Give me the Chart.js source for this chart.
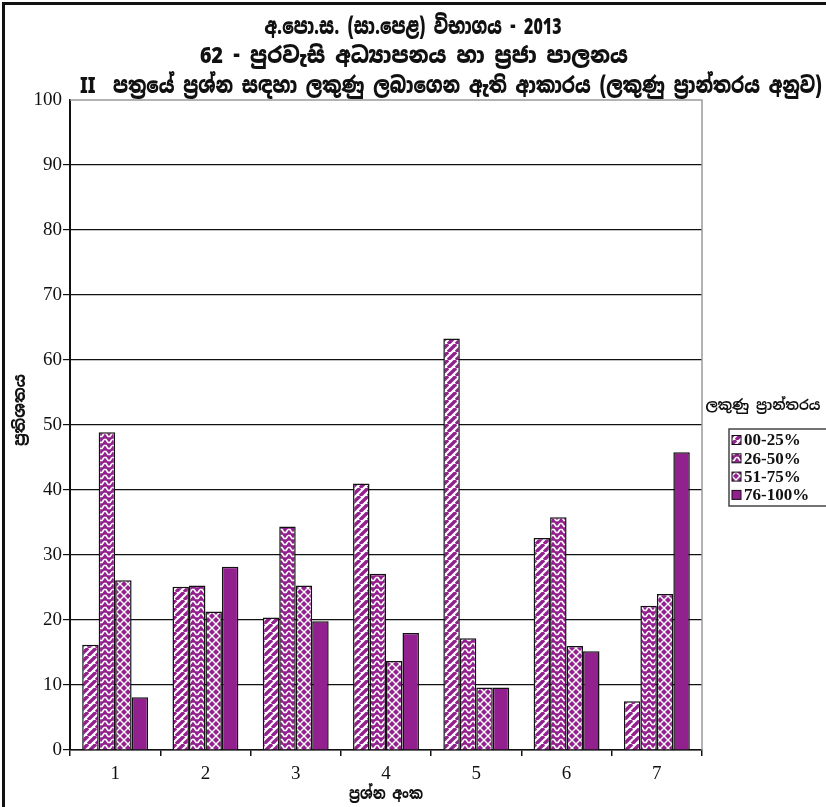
<!DOCTYPE html>
<html>
<head>
<meta charset="utf-8">
<script src="https://cdn.jsdelivr.net/npm/chart.js@4.4.1/dist/chart.umd.min.js"></script>
<style>
html,body{margin:0;padding:0;background:#fff;}
#wrap{width:826px;height:807px;position:relative;}
</style>
</head>
<body>
<div id="wrap"><canvas id="c" width="826" height="807"></canvas></div>
<script>
const titleLines = [
  "අ.පො.ස. (සා.පෙළ) විභාගය - 2013",
  "62 - පුරවැසි අධ්‍යාපනය හා ප්‍රජා පාලනය",
  "II  පත්‍රයේ ප්‍රශ්න සඳහා ලකුණු ලබාගෙන ඇති ආකාරය (ලකුණු ප්‍රාන්තරය අනුව)"
];
const yAxisTitle = "ප්‍රතිශතය";
const xAxisTitle = "ප්‍රශ්න අංක";
const legendTitle = "ලකුණු ප්‍රාන්තරය";
const categories = ["1", "2", "3", "4", "5", "6", "7"];
const seriesLabels = ["00-25%", "26-50%", "51-75%", "76-100%"];
const s00_25  = [16.2, 25.1, 20.4, 41.0, 63.3, 32.6, 7.5];
const s26_50  = [48.9, 25.3, 34.4, 27.1, 17.2, 35.8, 22.2];
const s51_75  = [26.1, 21.3, 25.3, 13.7, 9.6, 16.0, 24.0];
const s76_100 = [8.1, 28.2, 19.8, 18.0, 9.6, 15.2, 45.8];
const yTicks = [0, 10, 20, 30, 40, 50, 60, 70, 80, 90, 100];

const PURPLE = '#93208f';
const SIN = '"Noto Sans Sinhala","Noto Serif Sinhala","Iskoola Pota","Noto Sans",sans-serif';
const SERIF = '"Liberation Serif","DejaVu Serif",serif';

function makePattern(kind){
  const c = document.createElement('canvas');
  const g = c.getContext('2d');
  if(kind===0){
    c.width=8;c.height=8;
    g.fillStyle='#fff';g.fillRect(0,0,8,8);
    g.strokeStyle=PURPLE;g.lineWidth=3.4;
    for(let k=-8;k<=16;k+=8){g.beginPath();g.moveTo(k,8);g.lineTo(k+8,0);g.stroke();}
  } else if(kind===1){
    c.width=8;c.height=6;
    g.fillStyle=PURPLE;g.fillRect(0,0,8,6);
    g.strokeStyle='#fff';g.lineWidth=1.6;
    g.beginPath();g.moveTo(0,1.5);g.lineTo(2,1.5);g.lineTo(4,4.5);g.lineTo(6,4.5);g.lineTo(8,1.5);g.stroke();
  } else if(kind===2){
    c.width=8;c.height=8;
    g.fillStyle=PURPLE;g.fillRect(0,0,8,8);
    g.strokeStyle='#fff';g.lineWidth=1.4;
    g.beginPath();g.moveTo(0,0);g.lineTo(8,8);g.moveTo(8,0);g.lineTo(0,8);g.stroke();
  } else {
    return PURPLE;
  }
  return g.createPattern(c,'repeat');
}
const fills = [makePattern(0), makePattern(1), makePattern(2), makePattern(3)];
const seriesValues = [s00_25, s26_50, s51_75, s76_100];

function fitText(ctx, text, cx, cy, width){
  const w = ctx.measureText(text).width;
  ctx.save();
  ctx.translate(cx, cy);
  ctx.scale(width / w, 1);
  ctx.textAlign='center';
  ctx.fillText(text, 0, 0);
  ctx.restore();
}

const decorPlugin = {
  id:'decor',
  beforeDatasetsDraw(chart){
    const {ctx, chartArea:a} = chart;
    ctx.save();
    ctx.strokeStyle='#9a9a9a';ctx.lineWidth=1.5;
    ctx.beginPath();ctx.moveTo(a.left,a.top);ctx.lineTo(a.right,a.top);ctx.lineTo(a.right,a.bottom);ctx.stroke();
    ctx.restore();
  },
  afterDraw(chart){
    const {ctx} = chart;
    ctx.save();
    // frame
    ctx.fillStyle='#111';
    ctx.fillRect(2,2,3,807);
    ctx.fillRect(2,2,826,3);
    // titles
    ctx.fillStyle='#111';
    ctx.textBaseline='middle';
    ctx.font='900 22px '+SIN;
    fitText(ctx, titleLines[0], 413, 28, 297);
    fitText(ctx, titleLines[1], 414, 57, 428);
    fitText(ctx, titleLines[2], 451, 87, 742);
    // axis titles
    ctx.font='800 16px '+SIN;
    fitText(ctx, xAxisTitle, 386, 795, 74);
    ctx.save();
    ctx.translate(21, 410);ctx.rotate(-Math.PI/2);
    fitText(ctx, yAxisTitle, 0, 0, 72);
    ctx.restore();
    // legend
    ctx.font='700 14px '+SIN;
    fitText(ctx, legendTitle, 763, 406, 115);
    ctx.strokeStyle='#444';ctx.lineWidth=1.5;
    ctx.strokeRect(729, 429, 110, 77);
    ctx.font='bold 17px '+SERIF;
    seriesLabels.forEach((lab,i)=>{
      const y = 440 + i*18.3;
      ctx.fillStyle=fills[i];
      ctx.fillRect(732, y-4.5, 9, 9);
      ctx.strokeStyle='#111';ctx.lineWidth=1;
      ctx.strokeRect(732, y-4.5, 9, 9);
      ctx.fillStyle='#111';
      ctx.textAlign='left';
      ctx.fillText(lab, 744, y+1);
    });
    ctx.restore();
  }
};

new Chart(document.getElementById('c'), {
  type:'bar',
  data:{
    labels:categories,
    datasets: seriesLabels.map((lab,i)=>({
      label:lab,
      data:seriesValues[i],
      backgroundColor:fills[i],
      borderColor:'#111',
      borderWidth:1.5,
      barPercentage:1.0,
      categoryPercentage:0.73
    }))
  },
  options:{
    responsive:false,
    animation:false,
    devicePixelRatio:1,
    layout:{padding:{top:100,right:124,left:0,bottom:0}},
    plugins:{legend:{display:false},title:{display:false},tooltip:{enabled:false}},
    scales:{
      x:{
        offset:true,
        grid:{offset:true,drawOnChartArea:false,color:'#111',tickLength:6,lineWidth:1.5},
        border:{color:'#111',width:1.5},
        ticks:{color:'#111',font:{family:SERIF,size:19},padding:7},
        afterFit(s){s.height=57;}
      },
      y:{
        min:0,max:100,
        afterBuildTicks(s){s.ticks = yTicks.map(v=>({value:v}));},
        grid:{color:(c)=> c.tick && c.tick.value===100 ? 'rgba(0,0,0,0)' : '#111', lineWidth:1.2, tickLength:7},
        border:{color:'#111',width:2},
        ticks:{color:'#111',font:{family:SERIF,size:19},padding:1},
        afterFit(s){s.width=70;}
      }
    }
  },
  plugins:[decorPlugin]
});
</script>
</body>
</html>
